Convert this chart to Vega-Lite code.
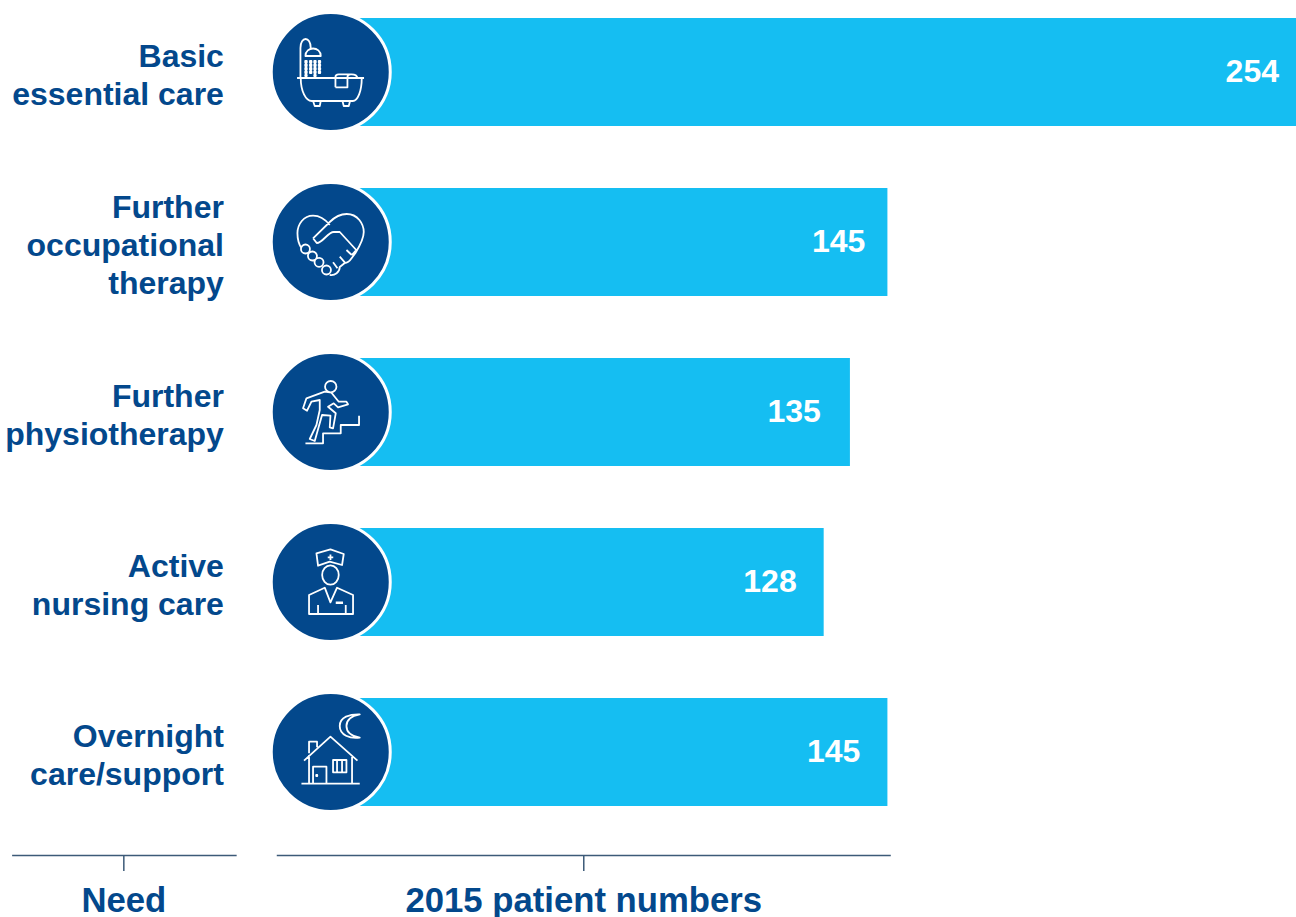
{
"$schema":"https://vega.github.io/schema/vega-lite/v6.json",
"width":1296,"height":917,"padding":0,
"autosize":{"type":"fit","contains":"padding"},
"background":"white",
"config":{"view":{"stroke":null}},
"datasets":{
"needs":[
{"need":"Basic|essential care","patients":254},
{"need":"Further|occupational|therapy","patients":145},
{"need":"Further|physiotherapy","patients":135},
{"need":"Active|nursing care","patients":128},
{"need":"Overnight|care/support","patients":145}
],
"frames":[
{"title":"Need","from":-88.5,"to":-28.6,"mid":-58.7},
{"title":"2015 patient numbers","from":-17.9,"to":145.9,"mid":64}
]
},
"resolve":{"scale":{"y":"independent"}},
"layer":[
{
"data":{"name":"needs"},
"encoding":{
"y":{"field":"need","type":"nominal","axis":null,"scale":{"type":"point","padding":0,"domain":["Basic|essential care","Further|occupational|therapy","Further|physiotherapy","Active|nursing care","Overnight|care/support"],"range":[72,752]}}
},
"layer":[
{"mark":{"type":"bar","size":108,"color":"#15BEF2"},
"encoding":{"x":{"field":"patients","type":"quantitative","stack":null,"axis":null,"scale":{"domain":[-91.733,254],"range":[0,1296],"nice":false,"zero":false}}}},
{"mark":{"type":"point","filled":true,"fill":"#03488C","stroke":"white","strokeWidth":3,"size":14161,"opacity":1},
"encoding":{"x":{"datum":-3.5,"type":"quantitative"}}},
{"mark":{"type":"point","filled":false,"stroke":"white","strokeWidth":1.8,"size":4,"opacity":1,"strokeJoin":"round"},
"encoding":{"x":{"datum":-3.5,"type":"quantitative"},
"shape":{"field":"need","type":"nominal","legend":null,"scale":{"domain":["Basic|essential care","Further|occupational|therapy","Further|physiotherapy","Active|nursing care","Overnight|care/support"],"range":[
"M-33.7 6H33.3M-30 6C-30 19-25 29-19 29H22C27 29 31 19 31 6M-17.7 29L-16 34H-11L-10 29M11.7 29L13 34H18L19.3 29M-30.3 6V-24C-30.3 -36-20 -36-20 -24V-22M-25.3 -16C-25.3 -26-10 -26-10 -16ZM4.7 15.3V5Q4.7 2.3 8 2.3H21Q26 2.3 26.7 6M4.7 15.3H16.7V5Q16.7 2.3 20 2.3M-25.5 -11h1.500v1.500h-1.500zM-20.800 -11h1.500v1.500h-1.500zM-16.500 -11h1.500v1.500h-1.500zM-12 -11h1.500v1.500h-1.500zM-25.5 -7.500h1.500v1.500h-1.500zM-20.800 -7.500h1.500v1.500h-1.500zM-16.500 -7.500h1.500v1.500h-1.500zM-12 -7.500h1.500v1.500h-1.500zM-25.5 -4h1.500v1.500h-1.500zM-20.800 -4h1.500v1.500h-1.500zM-16.500 -4h1.500v1.500h-1.500zM-12 -4h1.500v1.500h-1.500zM-25.5 -0.500h1.500v1.500h-1.500zM-20.800 -0.500h1.500v1.500h-1.500zM-16.500 -0.500h1.500v1.500h-1.500zM-12 -0.500h1.500v1.500h-1.500zM-25.5 3h1.500v1h-1.500zM-16.500 3h1.500v1h-1.500z",
"M-29.300 6.300C-32 2-33.300 -4-33.300 -8.700C-33.300 -18-27 -26.300-17.700 -26.300C-11 -26.300-5 -22-1 -17M-17.700 -3.700L-1 -20C5 -26 12 -28 16 -28C27 -28 33 -18 33 -10C33 -3 29 4 24.700 11L21 16C19 19 16 21 14 21L9 25C9 30 4 34 -1 33M-17.700 -3.700L-14 1C-8 1-3 -10 3 -10H9L25.500 8L21 13M15.700 8L21 13M9 14.700L14 20.300M2.300 20.300L6.700 26.300M-20.800 7A4.500 4.500 0 1 1-29.800 7A4.500 4.500 0 1 1-20.800 7ZM-13.800 14A4.500 4.500 0 1 1-22.800 14A4.500 4.500 0 1 1-13.800 14ZM-7.200 20.300A4.500 4.500 0 1 1-16.200 20.300A4.500 4.500 0 1 1-7.200 20.300ZM0.200 28A4.500 4.500 0 1 1-8.800 28A4.500 4.500 0 1 1 0.200 28Z",
"M5.700 -25.300A5.700 5.700 0 1 1-5.700 -25.300A5.700 5.700 0 1 1 5.700 -25.300ZM-27.700 -3.700L-24.300 -13.700L-6 -20.300L0.700 -19.300L8 -10.300H15.700L17.300 -7.700L7.300 -4.700L3 -8.700L-2.700 -5.300L5 1.300L2.300 16.300L-1 15.300L-0.300 3.700L-8.700 3L-16 29L-21 27L-14.300 13L-11 -2V-12L-19.300 -10.300L-23.700 -1.300ZM-25.300 31.300H-7.700V21.300H10V13H28.300V3.700",
"M-14.300 -28.700L-0.300 -32.700L13 -28L11.300 -17L-1 -20.300L-12.700 -16.300ZM-3 -24.700H2.500M-0.300 -27.500V-22M8 -7A8.300 9.700 0 1 1-8.600 -7A8.300 9.700 0 1 1 8 -7ZM-21.700 32V13L-6 5.700L-0.300 20.300L6.300 5.700L22.300 13V32ZM-12.700 23V32M15 23V32M5 20.300H12.300M5 21H12.300",
"M-29.300 31.700H29M-26.700 8.700L-0.300 -15.300L26.700 8.700M-21.700 3V31.700M21.300 3.700V31.700M-21.700 1.300V-10.300H-13.700V-4.700M-17.700 31.700V14.700H-4.300V31.700M-14.500 23h1v1h-1zM2.300 8H15.700V20.300H2.300ZM6.300 8V20.300M11.300 8V20.300M29 -37.700C19 -38 9 -35 9 -26C9 -17 19 -13 29 -14.300C20 -16 15.700 -20 15.700 -26C15.700 -32 20 -36 29 -37.700Z"
]}}}},
{"transform":[{"filter":"indexof(datum.need, 'occupational') < 0"}],"mark":{"type":"text","align":"right","baseline":"middle","dy":-15,"lineBreak":"|","lineHeight":38,"font":"Liberation Sans","fontWeight":"bold","fontSize":32,"color":"#03488C"},
"encoding":{"x":{"datum":-32,"type":"quantitative"},"text":{"field":"need","type":"nominal"}}},
{"transform":[{"filter":"indexof(datum.need, 'occupational') >= 0"}],"mark":{"type":"text","align":"right","baseline":"middle","dy":-34,"lineBreak":"|","lineHeight":38,"font":"Liberation Sans","fontWeight":"bold","fontSize":32,"color":"#03488C"},
"encoding":{"x":{"datum":-32,"type":"quantitative"},"text":{"field":"need","type":"nominal"}}},
{"transform":[{"filter":"datum.patients == 254"}],"mark":{"type":"text","align":"right","baseline":"middle","dx":-17,"font":"Liberation Sans","fontWeight":"bold","fontSize":32,"color":"white"},
"encoding":{"x":{"field":"patients","type":"quantitative"},"text":{"field":"patients","type":"quantitative"}}},
{"transform":[{"filter":"datum.need == 'Further|occupational|therapy'"}],"mark":{"type":"text","align":"right","baseline":"middle","dx":-22,"font":"Liberation Sans","fontWeight":"bold","fontSize":32,"color":"white"},
"encoding":{"x":{"field":"patients","type":"quantitative"},"text":{"field":"patients","type":"quantitative"}}},
{"transform":[{"filter":"datum.patients == 135"}],"mark":{"type":"text","align":"right","baseline":"middle","dx":-29,"font":"Liberation Sans","fontWeight":"bold","fontSize":32,"color":"white"},
"encoding":{"x":{"field":"patients","type":"quantitative"},"text":{"field":"patients","type":"quantitative"}}},
{"transform":[{"filter":"datum.patients == 128"}],"mark":{"type":"text","align":"right","baseline":"middle","dx":-27,"font":"Liberation Sans","fontWeight":"bold","fontSize":32,"color":"white"},
"encoding":{"x":{"field":"patients","type":"quantitative"},"text":{"field":"patients","type":"quantitative"}}},
{"transform":[{"filter":"datum.need == 'Overnight|care/support'"}],"mark":{"type":"text","align":"right","baseline":"middle","dx":-27,"font":"Liberation Sans","fontWeight":"bold","fontSize":32,"color":"white"},
"encoding":{"x":{"field":"patients","type":"quantitative"},"text":{"field":"patients","type":"quantitative"}}}
]
},
{
"data":{"name":"frames"},
"layer":[
{"mark":{"type":"rule","color":"#3C5A78","strokeWidth":1.5},
"encoding":{"x":{"field":"from","type":"quantitative"},"x2":{"field":"to"},"y":{"datum":855.5,"type":"quantitative","axis":null,"scale":{"domain":[0,917],"range":[0,917],"nice":false,"zero":false}}}},
{"mark":{"type":"rule","color":"#3C5A78","strokeWidth":1.5},
"encoding":{"x":{"field":"mid","type":"quantitative"},"y":{"datum":855,"type":"quantitative"},"y2":{"datum":871}}},
{"mark":{"type":"text","align":"center","baseline":"alphabetic","font":"Liberation Sans","fontWeight":"bold","fontSize":34.7,"color":"#03488C"},
"encoding":{"x":{"field":"mid","type":"quantitative"},"y":{"datum":912,"type":"quantitative"},"text":{"field":"title","type":"nominal"}}}
]
}
]
}
